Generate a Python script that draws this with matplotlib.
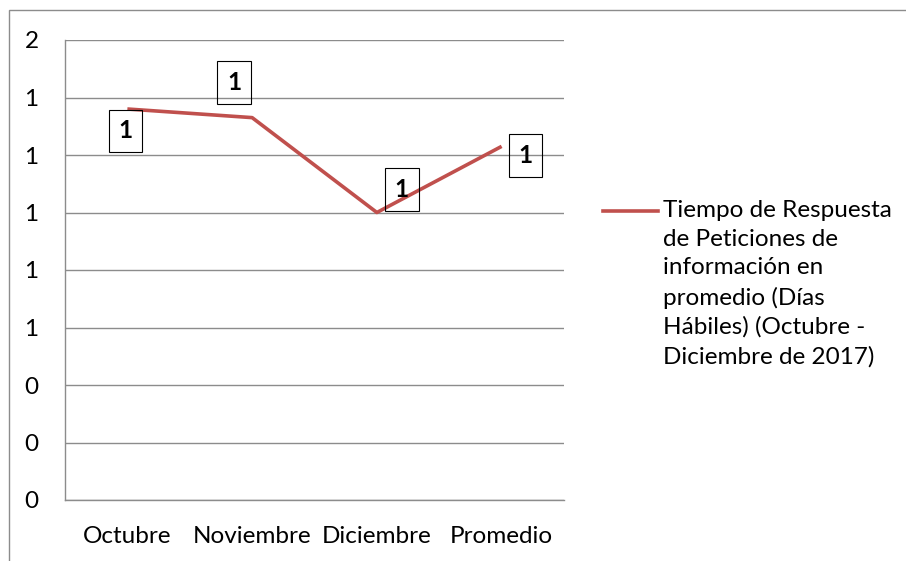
import matplotlib
matplotlib.use("Agg")
import matplotlib.pyplot as plt
from matplotlib.lines import Line2D
from matplotlib.patches import Rectangle

plt.rcParams['font.family'] = ['Lato', 'DejaVu Sans']

# data
categories = ["Octubre", "Noviembre", "Diciembre", "Promedio"]
values = [1.36, 1.33, 1.00, 1.23]
point_labels = ["1", "1", "1", "1"]
yticks = [0, 0.2, 0.4, 0.6, 0.8, 1.0, 1.2, 1.4, 1.6]
series_name = ("Tiempo de Respuesta\nde Peticiones de\ninformación en\n"
               "promedio (Días\nHábiles) (Octubre -\nDiciembre de 2017)")

# label box offsets from the point, in pixels (x right, y up)
label_offsets = [(-2, -22), (-18, 35), (25, 23), (24, -9)]

W, H = 906, 561
fs = 17.5
fig = plt.figure(figsize=(W / 100, H / 100), dpi=100)

# outer chart-area border (cropped at right/bottom in the reference)
fig.patches.append(Rectangle((9 / W, -0.1), 1.2, 1 - 10 / H + 0.1,
                             transform=fig.transFigure, fill=False,
                             edgecolor='#8c8c8c', linewidth=1.0))

ax = fig.add_axes([65 / W, (H - 500) / H, 499 / W, 460 / H])
x = list(range(len(categories)))
red = '#C0504D'
ax.plot(x, values, color=red, linewidth=2.6, solid_capstyle='butt', zorder=3)

ax.set_xlim(-0.5, len(categories) - 0.5)
ax.set_ylim(0, 1.6)
ax.set_yticks(yticks)
ax.set_yticklabels([f"{v:.0f}" for v in yticks])
ax.set_xticks(x)
ax.set_xticklabels(categories)
ax.tick_params(axis='both', length=0, labelsize=fs, colors='black')
ax.tick_params(axis='y', pad=19)
ax.tick_params(axis='x', pad=19)
ax.yaxis.grid(True, color='#8c8c8c', linewidth=1.0)
ax.set_axisbelow(True)
for s in ['top', 'right']:
    ax.spines[s].set_visible(False)
for s in ['left', 'bottom']:
    ax.spines[s].set_color('#8c8c8c')
    ax.spines[s].set_linewidth(1.0)

for xi, v, lab, off in zip(x, values, point_labels, label_offsets):
    ax.annotate(lab, (xi, v), xytext=off, textcoords='offset pixels',
                ha='center', va='center', fontsize=fs, fontweight='bold',
                bbox=dict(boxstyle='square,pad=0.4', facecolor='none',
                          edgecolor='black', linewidth=0.8), zorder=4)

# legend
fig.lines.append(Line2D([603 / W, 658 / W], [1 - 211 / H, 1 - 211 / H],
                        transform=fig.transFigure, color=red, linewidth=2.6))
fig.text(663 / W, 1 - 200 / H, series_name, ha='left', va='top',
         fontsize=fs, linespacing=1.45)

fig.savefig("out.png", dpi=100)
